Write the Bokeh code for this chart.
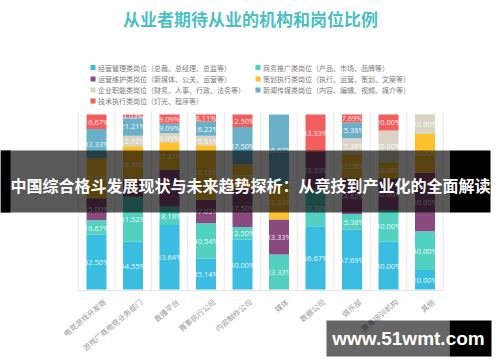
from bokeh.plotting import figure
from bokeh.models import Range1d
from bokeh.embed import file_html
from bokeh.resources import INLINE
from bokeh.core.properties import value
import math

# ---------------- data ----------------
title_text = "从业者期待从业的机构和岗位比例"
banner_text = "中国综合格斗发展现状与未来趋势探析：从竞技到产业化的全面解读"
watermark_text = "www.51wmt.com"

categories = ["电竞游戏开发商", "游戏厂商电竞业务部门", "直播平台", "赛事执行公司", "内容制作公司",
              "媒体", "数据公司", "俱乐部", "教育培训机构", "其他"]

# series, bottom -> top (percent of respondents, multi-choice)
s_manage = [62.50, 54.55, 63.64, 35.14, 50.00, 0, 56.67, 57.69, 60.00, 20.00]
s_business = [16.67, 51.52, 18.18, 40.54, 12.50, 33.33, 33.33, 15.38, 40.00, 40.00]
s_operate = [25.00, 18.18, 36.36, 27.03, 37.50, 33.33, 33.33, 34.62, 40.00, 60.00]
s_plan = [45.83, 39.39, 27.27, 62.16, 25.00, 33.33, 0, 23.08, 20.00, 40.00]
s_corporate = [0, 12.12, 9.09, 10.81, 0, 0, 0, 15.38, 40.00, 20.00]
s_media = [33.33, 21.21, 9.09, 16.22, 37.50, 66.67, 0, 15.38, 0, 0]
s_tech = [16.67, 3.03, 9.09, 8.11, 12.50, 0, 33.33, 7.69, 20.00, 0]

series_values = [s_manage, s_business, s_operate, s_plan, s_corporate, s_media, s_tech]
series_names = ["经营管理类岗位（总裁、总经理、总监等）", "商务推广类岗位（产品、市场、品牌等）",
                "运营维护类岗位（新媒体、公关、运营等）", "策划执行类岗位（执行、运营、策划、文案等）",
                "企业职能类岗位（财务、人事、行政、法务等）", "新闻传媒类岗位（内容、编辑、视频、媒介等）",
                "技术执行类岗位（灯光、程序等）"]
series_colors = ["#3BBDE2", "#52D0C0", "#8A4A7E", "#FCC12C", "#D9D4C4", "#6BB0C9", "#F25D5D"]

# ---------------- geometry helpers (page pixel -> data) ----------------
W, H = 500, 362
SPACING = 36.5      # px per category
CX0 = 96            # page x of first category centre
Y0, YPX = 289, 1.75  # page y of 0 %, px per %


def dx(px):
    return (px - CX0) / SPACING


def dy(py):
    return (Y0 - py) / YPX


p = figure(width=W, height=H, output_backend="svg", toolbar_location=None,
           x_range=Range1d(dx(0), dx(W)), y_range=Range1d(dy(H), dy(0)),
           x_axis_location=None, y_axis_location=None, min_border=0,
           outline_line_color=None, background_fill_color="white")
p.grid.visible = False

n = len(categories)
xs = list(range(n))

# separators and baseline
p.segment(x0=[i - 0.5 for i in range(n + 1)], y0=[-0.6] * (n + 1),
          x1=[i - 0.5 for i in range(n + 1)], y1=[101.5] * (n + 1),
          line_color="#E9E9E9", line_width=1)
p.segment(x0=[-0.5], y0=[-0.6], x1=[n - 0.5], y1=[-0.6], line_color="#E4E4E4", line_width=1)

# stacked (normalised to 100 %)
totals = [sum(s[i] for s in series_values) for i in range(n)]
bottoms = [0.0] * n
label_x, label_y, label_t = [], [], []
for vals, col in zip(series_values, series_colors):
    b = list(bottoms)
    t = [b[i] + vals[i] / totals[i] * 100 for i in range(n)]
    p.vbar(x=xs, bottom=b, top=t, width=20 / SPACING, fill_color=col, line_color=None)
    for i in range(n):
        if vals[i] > 0:
            label_x.append(i)
            label_y.append((b[i] + t[i]) / 2)
            label_t.append(f"{vals[i]:.2f}%")
    bottoms = t

p.text(x=label_x, y=label_y, text=label_t, text_color="white", text_alpha=0.92,
       text_font=value("Open Sans"), text_font_size="7.5px",
       text_align="center", text_baseline="middle")

# category labels (rotated)
p.text(x=[i + 8 / SPACING for i in xs], y=[dy(300)] * n, text=categories,
       angle=math.radians(40), text_color="#9A9A9A", text_font=value("Noto Sans CJK SC"),
       text_font_size="7.5px", text_align="right", text_baseline="middle")

# title
p.text(x=[dx(250)], y=[dy(18)], text=[title_text], text_color="#4CBFC3",
       text_font=value("Noto Sans CJK SC"), text_font_size="17px", text_font_style="bold",
       text_align="center", text_baseline="middle")

# legend (two columns)
leg_rows = [67, 78.5, 89.5, 100.5]
leg_cols = [(92.5, 97.5), (257.5, 262.5)]
for k, (name, col) in enumerate(zip(series_names, series_colors)):
    r, c = divmod(k, 2)
    sx, tx = leg_cols[c]
    p.rect(x=[dx(sx)], y=[dy(leg_rows[r])], width=5, height=5, width_units="screen",
           height_units="screen", fill_color=col, line_color=None)
    p.text(x=[dx(tx)], y=[dy(leg_rows[r])], text=[name], text_color="#7A7A7A",
           text_font=value("Noto Sans CJK SC"), text_font_size="7px",
           text_align="left", text_baseline="middle")

# banner overlay
p.quad(left=[dx(0)], right=[dx(449)], top=[dy(150)], bottom=[dy(212)],
       fill_color="black", fill_alpha=0.65, line_color=None)
p.quad(left=[dx(0), dx(449)], right=[dx(10), dx(490)], top=[dy(150)] * 2, bottom=[dy(212)] * 2,
       fill_color="black", fill_alpha=1.0, line_color=None)
p.text(x=[dx(250)], y=[dy(184)], text=[banner_text], text_color="white",
       text_font=value("Noto Sans CJK SC"), text_font_size="16px", text_font_style="bold",
       text_align="center", text_baseline="middle")

# watermark
p.quad(left=[dx(326)], right=[dx(449)], top=[dy(320)], bottom=[dy(356)],
       fill_color="black", fill_alpha=0.6, line_color=None)
p.quad(left=[dx(449)], right=[dx(491)], top=[dy(320)], bottom=[dy(356)],
       fill_color="black", fill_alpha=1.0, line_color=None)
p.text(x=[dx(408)], y=[dy(338)], text=[watermark_text], text_color="white",
       text_font=value("Liberation Sans"), text_font_size="19px", text_font_style="bold",
       text_align="center", text_baseline="middle")

open("out.html", "w").write(file_html(p, INLINE))
